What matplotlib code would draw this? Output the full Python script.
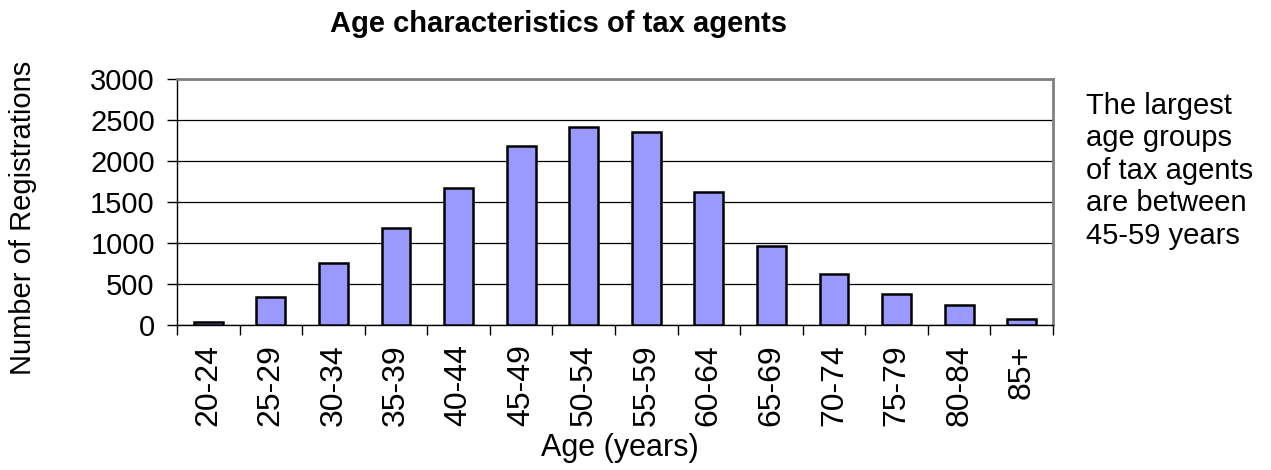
import matplotlib
matplotlib.use("Agg")
import matplotlib.pyplot as plt
import numpy as np

plt.rcParams['font.family'] = ['Liberation Sans', 'DejaVu Sans']

# Dados
grupos = ["20-24", "25-29", "30-34", "35-39", "40-44", "45-49", "50-54",
          "55-59", "60-64", "65-69", "70-74", "75-79", "80-84", "85+"]
registros = [35, 346, 761, 1177, 1665, 2178, 2419, 2353, 1625, 969, 627, 383, 244, 73]
y_ticks = [0, 500, 1000, 1500, 2000, 2500, 3000]

titulo = "Age characteristics of tax agents"
nota = "The largest\nage groups\nof tax agents\nare between\n45-59 years"

fig = plt.figure(figsize=(12.71, 4.70), dpi=100)
ax = fig.add_axes([177/1271, 1-325/470, (1053-177)/1271, (325-79)/470])

x = np.arange(len(grupos))
ax.bar(x, registros, width=0.46, color='#9999FF', edgecolor='black', linewidth=1.8, zorder=3)

ax.set_xlim(-0.5, len(grupos) - 0.5)
ax.set_ylim(0, 3000)
ax.set_yticks(y_ticks)
ax.yaxis.grid(True, color='black', linewidth=0.9, zorder=0)

# Ticks entre as categorias, rótulos no centro
ax.set_xticks(np.arange(-0.5, len(grupos), 1.0))
ax.set_xticklabels([])
ax.set_xticks(x, minor=True)
ax.set_xticklabels(grupos, minor=True, rotation=90, fontsize=23)
ax.tick_params(axis='x', which='minor', length=0, pad=14)
ax.tick_params(axis='x', which='major', length=7, width=1, direction='out')
ax.tick_params(axis='y', length=7, width=1, labelsize=21, pad=9)

for lado in ['top', 'right']:
    ax.spines[lado].set_color('#808080')
    ax.spines[lado].set_linewidth(2)
for lado in ['left', 'bottom']:
    ax.spines[lado].set_color('black')
    ax.spines[lado].set_linewidth(1)

fig.text(558/1271, 1-24/470, titulo, ha='center', va='center', fontsize=21, fontweight='bold')
fig.text(23/1271, 1-218/470, "Number of Registrations", rotation=90, ha='center', va='center', fontsize=21)
fig.text(620/1271, 1-448/470, "Age (years)", ha='center', va='center', fontsize=22)
fig.text(1086/1271, 1-92/470, nota, ha='left', va='top', fontsize=21, linespacing=1.2)

fig.savefig("out.png", dpi=100)
